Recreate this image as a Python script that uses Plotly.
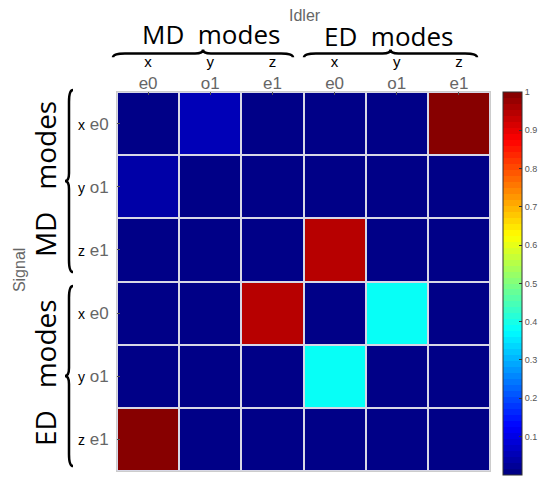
import plotly.graph_objects as go
import numpy as np

# ---- data ----
idler_top = ["x", "y", "z", "x", "y", "z"]
idler_bot = ["e0", "o1", "e1", "e0", "o1", "e1"]
signal_pol = ["x", "y", "z", "x", "y", "z"]
signal_mode = ["e0", "o1", "e1", "e0", "o1", "e1"]
values = [
    [0.005, 0.06, 0.005, 0.005, 0.005, 0.99],
    [0.045, 0.005, 0.005, 0.005, 0.005, 0.005],
    [0.005, 0.005, 0.005, 0.95, 0.005, 0.005],
    [0.005, 0.005, 0.95, 0.005, 0.38, 0.005],
    [0.005, 0.005, 0.005, 0.38, 0.005, 0.005],
    [0.99, 0.005, 0.005, 0.005, 0.005, 0.005],
]
group_labels = ["MD  modes", "ED  modes"]

# ---- MATLAB-like jet, 64 discrete steps ----
def jet(t):
    r = min(max(1.5 - abs(4 * t - 3), 0), 1)
    g = min(max(1.5 - abs(4 * t - 2), 0), 1)
    b = min(max(1.5 - abs(4 * t - 1), 0), 1)
    return f"rgb({int(r*255)},{int(g*255)},{int(b*255)})"

N = 64
cs = []
for i in range(N):
    c = jet((i + 0.5) / N)
    cs.append([i / N, c])
    cs.append([(i + 1) / N, c])

W, H = 547, 479
L, R, T, B = 117, 57, 92, 4
PW, PH = W - L - R, H - T - B

def px(x):
    return (x - L) / PW

def py(y):
    return (H - B - y) / PH

def pt(x, y):
    return f"{px(x):.5f},{py(y):.5f}"

def brace_h(x0, x1, y, d=4):
    xm = (x0 + x1) / 2
    return (f"M {pt(x0, y + d)} Q {pt(x0, y)} {pt(x0 + 3*d, y)} "
            f"L {pt(xm - 2*d, y)} Q {pt(xm, y)} {pt(xm, y - d)} "
            f"Q {pt(xm, y)} {pt(xm + 2*d, y)} "
            f"L {pt(x1 - 3*d, y)} Q {pt(x1, y)} {pt(x1, y + d)}")

def brace_v(y0, y1, x, d=4):
    ym = (y0 + y1) / 2
    return (f"M {pt(x + d, y0)} Q {pt(x, y0)} {pt(x, y0 + 3*d)} "
            f"L {pt(x, ym - 2*d)} Q {pt(x, ym)} {pt(x - d, ym)} "
            f"Q {pt(x, ym)} {pt(x, ym + 2*d)} "
            f"L {pt(x, y1 - 3*d)} Q {pt(x, y1)} {pt(x + d, y1)}")

xt = [f"<span style='color:black;font-size:15px'>{a}</span><br>{b}" for a, b in zip(idler_top, idler_bot)]
yt = [f"<span style='color:black;font-size:14px'>{a}</span> {b}" for a, b in zip(signal_pol, signal_mode)]

fig = go.Figure(go.Heatmap(
    z=values, x=list(range(6)), y=list(range(6)),
    colorscale=cs, zmin=0, zmax=1, xgap=2, ygap=2,
    colorbar=dict(
        thickness=19, thicknessmode="pixels",
        len=387 / PH, lenmode="fraction", y=0.495, yanchor="middle",
        x=(503 - L) / PW, xanchor="left", xpad=0, ypad=0,
        outlinewidth=1, outlinecolor="#333",
        tickvals=[0.1, 0.2, 0.3, 0.4, 0.5, 0.6, 0.7, 0.8, 0.9, 1],
        ticks="inside", ticklen=3, tickcolor="#333",
        tickfont=dict(size=9, color="#555", family="Liberation Sans"),
    ),
))

fig.update_xaxes(side="top", tickvals=list(range(6)), ticktext=xt,
                 tickfont=dict(size=17, color="#666", family="Liberation Sans"),
                 ticks="inside", ticklen=3, tickcolor="#555", ticklabelstandoff=-5,
                 showgrid=False, zeroline=False, range=[-0.5, 5.5],
                 showline=True, linecolor="#ccc", mirror=True)
fig.update_yaxes(autorange=False, range=[5.5, -0.5], tickvals=list(range(6)), ticktext=yt,
                 tickfont=dict(size=17, color="#666", family="Liberation Sans"),
                 ticks="inside", ticklen=3, tickcolor="#555", ticklabelstandoff=4,
                 showgrid=False, zeroline=False,
                 showline=True, linecolor="#ccc", mirror=True)

shapes = [
    dict(type="path", xref="paper", yref="paper", path=brace_h(113, 293, 53),
         line=dict(color="black", width=2.5)),
    dict(type="path", xref="paper", yref="paper", path=brace_h(304, 477, 53),
         line=dict(color="black", width=2.5)),
    dict(type="path", xref="paper", yref="paper", path=brace_v(90, 274, 69),
         line=dict(color="black", width=2.5)),
    dict(type="path", xref="paper", yref="paper", path=brace_v(288, 470, 69),
         line=dict(color="black", width=2.5)),
]

gfont = dict(size=26, color="black", family="Open Sans")
lfont = dict(size=28, color="black", family="Open Sans")
annots = [
    dict(text=group_labels[0], x=px(211), y=py(33), font=gfont),
    dict(text=group_labels[1], x=px(388), y=py(35), font=gfont),
    dict(text="MD   modes", x=px(45), y=py(180), font=lfont, textangle=-90),
    dict(text="ED   modes", x=px(45), y=py(376), font=lfont, textangle=-90),
    dict(text="Idler", x=px(305), y=py(15), font=dict(size=16, color="#666", family="Liberation Sans")),
    dict(text="Signal", x=px(19), y=py(272), textangle=-90,
         font=dict(size=16, color="#666", family="Liberation Sans")),
]
for a in annots:
    a.update(xref="paper", yref="paper", showarrow=False, xanchor="center", yanchor="middle")

fig.update_layout(
    width=W, height=H, margin=dict(l=L, r=R, t=T, b=B),
    paper_bgcolor="white", plot_bgcolor="rgb(215,215,230)",
    shapes=shapes, annotations=annots,
)
fig.write_html("out.html")
